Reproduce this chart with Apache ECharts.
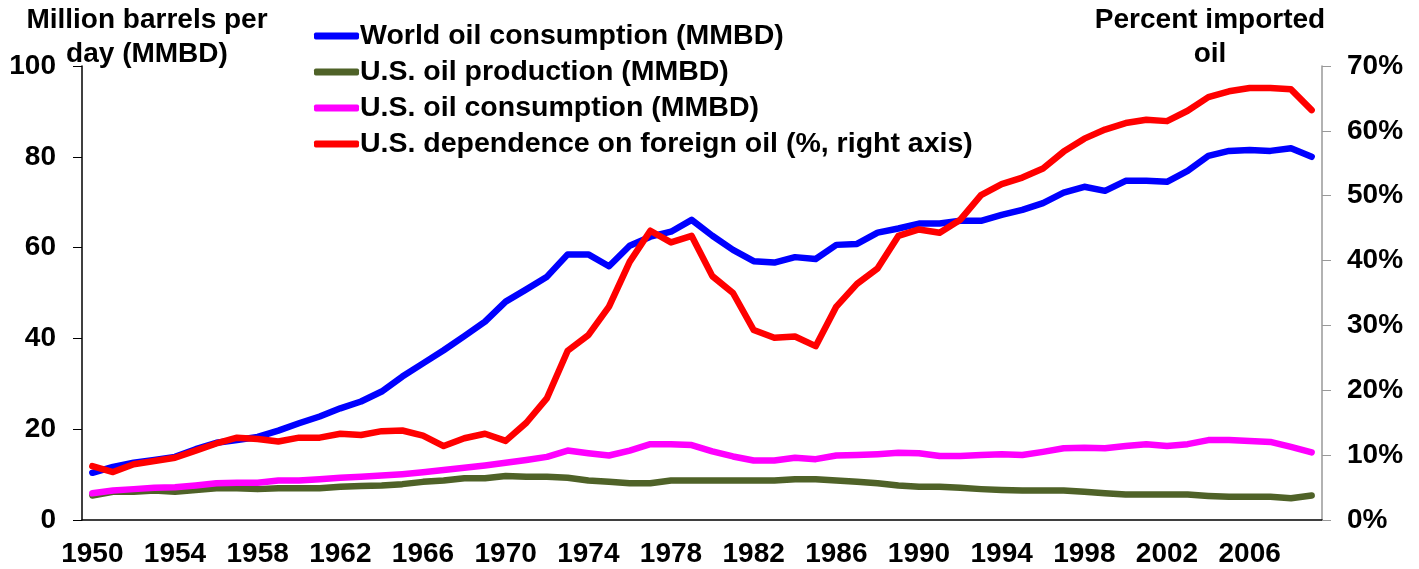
<!DOCTYPE html>
<html lang="en">
  <head>
    <meta charset="UTF-8" />
    <title>Oil consumption and dependence</title>
    <style>
      html, body { margin: 0; padding: 0; background: #fff; }
      #main { width: 1419px; height: 569px; }
    </style>
  </head>
  <body>
    <div id="main"></div>
    <script src="https://cdn.jsdelivr.net/npm/echarts@6/dist/echarts.min.js"></script>
    <script>
      // years 1950 - 2009
      var years = [];
      for (var y = 1950; y <= 2009; y++) years.push(String(y));

      var worldConsumption = [
        10.4, 11.7, 12.6, 13.2, 13.9, 15.6, 17.0, 17.6, 18.3, 19.7,
        21.3, 22.8, 24.6, 26.1, 28.3, 31.6, 34.5, 37.4, 40.5, 43.7,
        48.1, 50.8, 53.6, 58.5, 58.5, 55.9, 60.4, 62.4, 63.5, 66.1,
        62.6, 59.5, 57.0, 56.7, 57.9, 57.5, 60.6, 60.8, 63.3, 64.2,
        65.3, 65.3, 65.9, 65.9, 67.2, 68.3, 69.8, 72.1, 73.4, 72.5,
        74.7, 74.7, 74.5, 76.9, 80.2, 81.3, 81.5, 81.3, 81.9, 80.0
      ];
      var usProduction = [
        5.4, 6.2, 6.2, 6.5, 6.2, 6.6, 7.0, 7.0, 6.8, 7.0,
        7.0, 7.0, 7.3, 7.5, 7.6, 7.9, 8.4, 8.7, 9.2, 9.2,
        9.7, 9.5, 9.5, 9.3, 8.7, 8.4, 8.1, 8.1, 8.7, 8.7,
        8.7, 8.7, 8.7, 8.7, 9.0, 9.0, 8.7, 8.4, 8.1, 7.6,
        7.3, 7.3, 7.1, 6.8, 6.6, 6.5, 6.5, 6.5, 6.2, 5.9,
        5.6, 5.6, 5.6, 5.6, 5.3, 5.1, 5.1, 5.1, 4.8, 5.4
      ];
      var usConsumption = [
        5.9, 6.5, 6.8, 7.1, 7.2, 7.6, 8.1, 8.2, 8.2, 8.7,
        8.7, 9.0, 9.3, 9.5, 9.8, 10.1, 10.5, 11.0, 11.5, 12.0,
        12.6, 13.2, 13.9, 15.3, 14.7, 14.2, 15.3, 16.7, 16.7, 16.5,
        15.1, 14.0, 13.1, 13.1, 13.7, 13.4, 14.2, 14.3, 14.5, 14.8,
        14.7, 14.1, 14.1, 14.3, 14.5, 14.3, 15.0, 15.8, 15.9, 15.8,
        16.3, 16.7, 16.3, 16.7, 17.6, 17.6, 17.4, 17.2, 16.1, 14.9
      ];
      var importShare = [
        8.3, 7.4, 8.6, 9.1, 9.6, 10.7, 11.8, 12.7, 12.5, 12.1,
        12.7, 12.7, 13.3, 13.1, 13.7, 13.8, 13.0, 11.4, 12.6, 13.3,
        12.2, 15.0, 18.8, 26.1, 28.5, 32.9, 39.8, 44.6, 42.8, 43.8,
        37.6, 35.0, 29.3, 28.1, 28.3, 26.8, 32.9, 36.4, 38.8, 43.8,
        44.8, 44.3, 46.3, 50.1, 51.8, 52.8, 54.2, 56.8, 58.8, 60.2,
        61.2, 61.7, 61.5, 63.1, 65.2, 66.1, 66.6, 66.6, 66.4, 63.2
      ];

      var font = "'Liberation Sans', Arial, sans-serif";
      var myChart = echarts.init(document.getElementById("main"));
      var option = {
        animation: false,
        textStyle: { fontFamily: font },
        grid: { left: 82, right: 97, top: 66, bottom: 49 },
        legend: {
          orient: "vertical",
          left: 309,
          top: 16,
          itemWidth: 45,
          itemHeight: 7,
          itemGap: 6,
          icon: "roundRect",
          textStyle: { fontSize: 28.5, fontWeight: "bold", color: "#000", fontFamily: font, lineHeight: 30, padding: [0, 0, 0, -4] },
          data: [
            "World oil consumption (MMBD)",
            "U.S. oil production (MMBD)",
            "U.S. oil consumption (MMBD)",
            "U.S. dependence on foreign oil (%, right axis)"
          ]
        },
        graphic: [
          { type: "text", x: 147, y: 3, style: { text: "Million barrels per\nday (MMBD)", textAlign: "center", textVerticalAlign: "top", font: "bold 28px " + font, fill: "#000", lineHeight: 34 } },
          { type: "text", x: 1210, y: 3, style: { text: "Percent imported\noil", textAlign: "center", textVerticalAlign: "top", font: "bold 28px " + font, fill: "#000", lineHeight: 34 } }
        ],
        xAxis: {
          type: "category",
          data: years,
          boundaryGap: true,
          axisLine: { lineStyle: { color: "#000", width: 1.5 } },
          axisTick: { interval: 0, length: 9, lineStyle: { color: "#000" } },
          axisLabel: { interval: 3, fontSize: 28, fontWeight: "bold", color: "#000", margin: 20 }
        },
        yAxis: [
          {
            type: "value",
            min: 0, max: 100, interval: 20,
            splitLine: { show: false },
            axisLine: { show: true, lineStyle: { color: "#000", width: 1.5 } },
            axisTick: { show: true, length: 9, lineStyle: { color: "#000" } },
            axisLabel: { fontSize: 28, fontWeight: "bold", color: "#000", margin: 26 }
          },
          {
            type: "value",
            min: 0, max: 70, interval: 10,
            position: "right",
            splitLine: { show: false },
            axisLine: { show: true, lineStyle: { color: "#999", width: 1.5 } },
            axisTick: { show: true, length: 9, lineStyle: { color: "#999" } },
            axisLabel: { fontSize: 28, fontWeight: "bold", color: "#000", margin: 25, formatter: "{value}%" }
          }
        ],
        series: [
          { name: "World oil consumption (MMBD)", type: "line", data: worldConsumption, symbol: "none", color: "#0000ff", lineStyle: { width: 6.5, cap: "round", join: "round" } },
          { name: "U.S. oil production (MMBD)", type: "line", data: usProduction, symbol: "none", color: "#4f6228", lineStyle: { width: 6.5, cap: "round", join: "round" } },
          { name: "U.S. oil consumption (MMBD)", type: "line", data: usConsumption, symbol: "none", color: "#ff00ff", lineStyle: { width: 6.5, cap: "round", join: "round" } },
          { name: "U.S. dependence on foreign oil (%, right axis)", type: "line", yAxisIndex: 1, data: importShare, symbol: "none", color: "#ff0000", lineStyle: { width: 6.5, cap: "round", join: "round" } }
        ]
      };
      myChart.setOption(option);
    </script>
  </body>
</html>
